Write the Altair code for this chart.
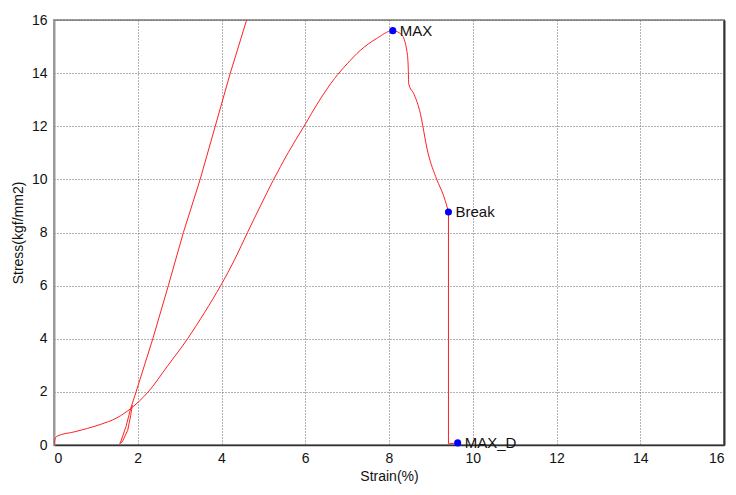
import altair as alt
import pandas as pd

# Main loading curve up to the break point (strain %, stress kgf/mm2)
main_x = [0.0, 0.02, 0.07, 0.5, 1.1, 1.5, 1.83, 2.25, 2.7, 3.19, 3.6, 3.98, 4.32, 4.62, 4.93, 5.23, 5.59, 5.97,
          6.33, 6.7, 7.0, 7.31, 7.7, 8.09,
          8.3, 8.43, 8.46, 8.47, 8.6, 8.73, 8.93, 9.14, 9.3, 9.38, 9.42]
main_y = [0.0, 0.2, 0.33, 0.5, 0.77, 1.02, 1.37, 2.0, 2.95, 4.0, 5.0, 6.0, 7.0, 8.0, 9.0, 9.95, 11.0, 12.0,
          12.95, 13.8, 14.35, 14.85, 15.3, 15.6,
          15.45, 14.8, 14.2, 13.6, 13.2, 12.6, 11.0, 10.0, 9.4, 9.0, 8.77]

# Drop after the break
drop_x = [9.42, 9.42, 9.45, 9.64]
drop_y = [8.77, 0.05, 0.05, 0.08]

# Steep reloading line with a narrow loop near the bottom
steep_x = [4.6, 4.21, 3.85, 3.49, 3.09, 2.73, 2.36, 1.96, 1.83, 1.72, 1.6, 1.57, 1.63, 1.76, 1.83, 1.87]
steep_y = [16.0, 14.0, 12.0, 10.0, 8.0, 6.0, 4.0, 2.0, 1.37, 0.7, 0.15, 0.05, 0.12, 0.55, 1.1, 1.5]

pt_names = ["MAX", "Break", "MAX_D"]
pt_x = [8.09, 9.42, 9.64]
pt_y = [15.6, 8.77, 0.08]


def table(name, xs_, ys_):
    return pd.DataFrame({"series": name, "o": range(len(xs_)), "x": xs_, "y": ys_})


main_df = table("main", main_x, main_y)
other_df = pd.concat([table("drop", drop_x, drop_y), table("steep", steep_x, steep_y)])
pts = pd.DataFrame({"name": pt_names, "x": pt_x, "y": pt_y})

FONT = "Liberation Sans Narrow, Liberation Sans, Arial"
xs = alt.Scale(domain=[0, 16], nice=False, zero=False)
ys = alt.Scale(domain=[0, 16], nice=False, zero=False)
vals = list(range(0, 17, 2))

base_x = alt.X("x:Q", scale=xs, title="Strain(%)",
               axis=alt.Axis(values=vals, format="d", grid=True, ticks=False, labelPadding=6,
                             domainColor="#333333", domainWidth=1.5, titlePadding=4))
base_y = alt.Y("y:Q", scale=ys, title="Stress(kgf/mm2)",
               axis=alt.Axis(values=vals, format="d", grid=True, ticks=False, labelPadding=7,
                             domainColor="#9a9a9a", domainWidth=2, titlePadding=6))

main_layer = alt.Chart(main_df).mark_line(color="#ff2020", strokeWidth=1, clip=True,
                                          interpolate="monotone").encode(
    x=base_x, y=base_y, order="o:Q"
)

other_layer = alt.Chart(other_df).mark_line(color="#ff2020", strokeWidth=1, clip=True).encode(
    x=alt.X("x:Q", scale=xs), y=alt.Y("y:Q", scale=ys, axis=None), detail="series:N", order="o:Q"
)

point_layer = alt.Chart(pts).mark_circle(color="#0000ff", size=50, opacity=1).encode(
    x=alt.X("x:Q", scale=xs),
    y=alt.Y("y:Q", scale=ys, axis=alt.Axis(orient="right", labels=False, ticks=False, grid=False,
                                             domainColor="#333333", domainWidth=2, title=None)),
)

text_layer = alt.Chart(pts).mark_text(align="left", baseline="middle", dx=7, fontSize=15,
                                      font=FONT, color="#111111").encode(
    x=alt.X("x:Q", scale=xs), y=alt.Y("y:Q", scale=ys, axis=None), text="name:N"
)

chart = alt.layer(main_layer, other_layer, point_layer, text_layer).resolve_axis(
    y="independent"
).properties(
    width=670, height=425, autosize=alt.AutoSizeParams(type="none"),
    padding={"left": 46, "top": 12, "right": 4, "bottom": 40},
    background="white"
).configure_view(stroke="#9a9a9a", strokeWidth=2).configure_axis(
    labelFont=FONT, titleFont=FONT, labelFontSize=14, titleFontSize=14,
    titleFontWeight="normal", labelColor="#111111", titleColor="#111111",
    gridColor="#666666", gridDash=[1, 2], gridWidth=1
)

chart.save("out.html", embed_options={"renderer": "svg", "actions": False})
